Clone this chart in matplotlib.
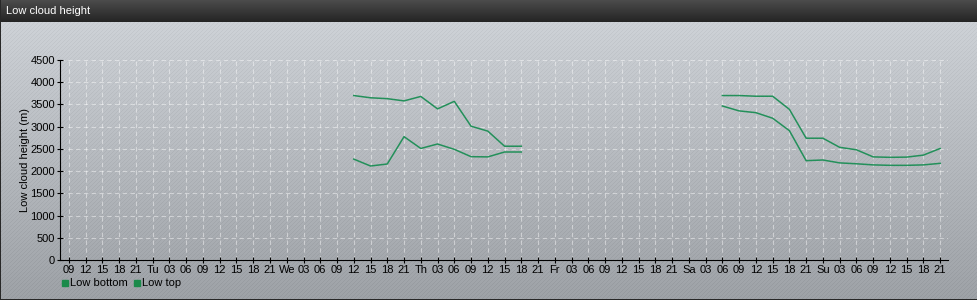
import numpy as np
import matplotlib
matplotlib.use("Agg")
import matplotlib.pyplot as plt
from matplotlib.patches import Rectangle

plt.rcParams["font.family"] = ["Liberation Sans", "DejaVu Sans"]

# hours since Monday 00:00, one point every 3 h
seg1_hours = [60, 63, 66, 69, 72, 75, 78, 81, 84, 87, 90]
seg1_top = [3700, 3650, 3630, 3580, 3680, 3400, 3570, 3010, 2900, 2560, 2560]
seg1_bottom = [2270, 2115, 2160, 2775, 2510, 2610, 2490, 2325, 2320, 2430, 2430]

seg2_hours = [126, 129, 132, 135, 138, 141, 144, 147, 150, 153, 156, 159, 162, 165]
seg2_top = [3700, 3700, 3685, 3685, 3390, 2740, 2740, 2535, 2480, 2320, 2310, 2315, 2360, 2510]
seg2_bottom = [3465, 3355, 3315, 3190, 2910, 2235, 2250, 2185, 2165, 2140, 2130, 2130, 2140, 2175]

day_names = ["Mo", "Tu", "We", "Th", "Fr", "Sa", "Su"]
tick_hours = list(range(9, 166, 3))

line_color = "#23905a"

W, H = 978, 300
fig = plt.figure(figsize=(W / 100, H / 100), dpi=100)

# background: dark title bar + striped grey gradient
bg = fig.add_axes([0, 0, 1, 1])
yy, xx = np.mgrid[0:H, 0:W]
t = (yy - 22) / (H - 22)
base = np.stack([206 - 48 * t, 210 - 48 * t, 215 - 48 * t], axis=-1)
stripe = ((xx + yy) % 4 == 0) * -9.0
img = base + stripe[..., None]
bar = yy < 22
shade = 75 - 40 * (yy / 22.0)
for c in range(3):
    img[..., c] = np.where(bar, shade, img[..., c])
img[:, -1] = 40
img[-1, :] = 40
img[:, 0] = 40
bg.imshow(np.clip(img, 0, 255).astype(np.uint8), aspect="auto", interpolation="nearest")
bg.axis("off")
bg.text(5, 11, "Low cloud height", color="white", fontsize=8, va="center", ha="left")

ax = fig.add_axes([60 / W, 40 / H, 888 / W, 200 / H])
ax.patch.set_alpha(0)
ax.plot(seg1_hours, seg1_top, color=line_color, lw=1.1)
ax.plot(seg1_hours, seg1_bottom, color=line_color, lw=1.1)
ax.plot(seg2_hours, seg2_top, color=line_color, lw=1.1)
ax.plot(seg2_hours, seg2_bottom, color=line_color, lw=1.1)

ax.set_xlim(7.4, 166.4)
ax.set_ylim(0, 4500)
ax.set_yticks(range(0, 4501, 500))
ax.set_xticks(tick_hours)
labels = []
for h in tick_hours:
    if h % 24 == 0:
        labels.append(day_names[h // 24])
    else:
        labels.append("%02d" % (h % 24))
ax.set_xticklabels(labels)
ax.tick_params(labelsize=8, length=5, width=0.8, pad=1, colors="black", direction="inout")
ax.grid(True, color="white", alpha=0.45, linestyle=(0, (4, 3)), lw=0.8)
for s in ["top", "right"]:
    ax.spines[s].set_visible(False)
ax.set_ylabel("Low cloud height (m)", fontsize=8)
ax.yaxis.set_label_coords(-30 / 888, 0.5)

# legend
for x0, name in [(61, "Low bottom"), (133, "Low top")]:
    bg.add_patch(Rectangle((x0, 279), 6, 6, color="#1a8a4a"))
    bg.text(x0 + 8, 282, name, fontsize=8, va="center", ha="left")

fig.savefig("out.png", dpi=100)
